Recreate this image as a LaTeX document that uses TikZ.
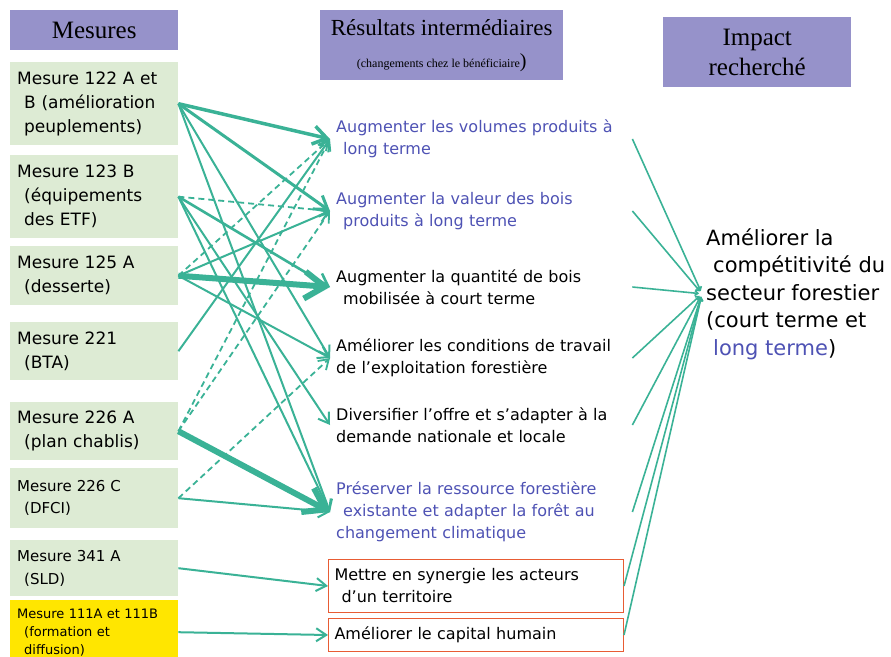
\documentclass[tikz,border=0pt]{standalone}
\usepackage{fontspec}
\setmainfont{DejaVu Sans}
\newfontfamily\headfont{Liberation Serif}
\usetikzlibrary{arrows.meta, positioning}
\definecolor{headpurple}{RGB}{150,146,202}
\definecolor{mesgreen}{RGB}{221,235,212}
\definecolor{mesyellow}{RGB}{255,230,0}
\definecolor{resblue}{RGB}{78,82,180}
\definecolor{linkteal}{RGB}{58,178,150}
\definecolor{boxorange}{RGB}{232,92,52}
\newcommand{\ind}{\hspace*{7pt}}
\tikzset{
  header/.style={fill=headpurple, anchor=north west, align=center, inner sep=0pt},
  mesure/.style={fill=mesgreen, anchor=north west, minimum width=168pt, text width=154pt, inner xsep=7pt, inner ysep=0pt, align=left},
  result/.style={anchor=west, text width=290pt, inner xsep=6pt, inner ysep=3pt, align=left, font=\fontsize{16}{22}\selectfont},
  resbox/.style={draw=boxorange, line width=1pt, anchor=north west, text width=283pt, inner xsep=6pt, align=left, font=\fontsize{16}{22}\selectfont},
  link/.style={draw=linkteal, line width=2pt, -{Straight Barb[length=5pt 2.5, width=6pt 3.5]}},
  dlink/.style={link, line width=1.8pt, dash pattern=on 6pt off 4pt},
  rlink/.style={draw=linkteal, line width=1.6pt, shorten >=3pt, -{Straight Barb[length=3pt, width=5pt]}}
}

\begin{document}
\begin{tikzpicture}[x=1pt, y=-1pt]
  \useasboundingbox (0,0) rectangle (891,656);
  % en-tetes
  \node[header, minimum width=168pt, minimum height=40pt, font=\headfont\fontsize{25}{28}\selectfont] (mesures) at (10,10) {Mesures};
  \node[header, minimum width=243pt, minimum height=70pt, font=\headfont\fontsize{23}{32}\selectfont] (resultats) at (320,10) {Résultats intermédiaires\\{\fontsize{12}{14}\selectfont (changements chez le bénéficiaire}{\fontsize{20}{20}\selectfont )}};
  \node[header, minimum width=188pt, minimum height=70pt, font=\headfont\fontsize{25}{30}\selectfont] (impacthead) at (663,17) {Impact\\recherché};

  % mesures
  \node[mesure, minimum height=83pt, font=\fontsize{17}{24}\selectfont] (m122) at (10,62) {Mesure 122 A et\\\ind B (amélioration\\\ind peuplements)};
  \node[mesure, minimum height=83pt, font=\fontsize{17}{24}\selectfont] (m123) at (10,155) {Mesure 123 B\\\ind (équipements\\\ind des ETF)};
  \node[mesure, minimum height=59pt, font=\fontsize{17}{24}\selectfont] (m125) at (10,246) {Mesure 125 A\\\ind (desserte)};
  \node[mesure, minimum height=58pt, font=\fontsize{17}{24}\selectfont] (m221) at (10,322) {Mesure 221\\\ind (BTA)};
  \node[mesure, minimum height=58pt, font=\fontsize{17}{24}\selectfont] (m226a) at (10,402) {Mesure 226 A\\\ind (plan chablis)};
  \node[mesure, minimum height=60pt, font=\fontsize{15}{22}\selectfont] (m226c) at (10,468) {Mesure 226 C\\\ind (DFCI)};
  \node[mesure, minimum height=56pt, font=\fontsize{15}{23}\selectfont] (m341) at (10,540) {Mesure 341 A\\\ind (SLD)};
  \node[mesure, fill=mesyellow, minimum height=64pt, font=\fontsize{13}{18}\selectfont] (m111) at (10,600) {Mesure 111A et 111B\\\ind (formation et\\\ind diffusion)};

  % resultats intermediaires
  \node[result, text=resblue] (r1) at (330,139) {Augmenter les volumes produits à\\\ind long terme};
  \node[result, text=resblue] (r2) at (330,211) {Augmenter la valeur des bois\\\ind produits à long terme};
  \node[result] (r3) at (330,287) {Augmenter la quantité de bois\\\ind mobilisée à court terme};
  \node[result] (r4) at (330,358) {Améliorer les conditions de travail\\de l’exploitation forestière};
  \node[result] (r5) at (330,425) {Diversifier l’offre et s’adapter à la\\demande nationale et locale};
  \node[result, text=resblue] (r6) at (330,512) {Préserver la ressource forestière\\\ind existante et adapter la forêt au\\changement climatique};
  \node[resbox, minimum height=53pt] (r7) at (328,559) {Mettre en synergie les acteurs\\\ind d’un territoire};
  \node[resbox, minimum height=33pt] (r8) at (328,618) {Améliorer le capital humain};

  % impact
  \node[anchor=north west, align=left, inner sep=4pt, font=\fontsize{21}{27.5}\selectfont] (impact) at (702,224) {Améliorer la\\\ind compétitivité du\\secteur forestier\\(court terme et\\\ind\textcolor{resblue}{long terme})};

  % liens mesures -> resultats
  \draw[link, line width=3.5pt] (m122.east) -- (r1.west);
  \draw[link, line width=3pt] (m122.east) -- (r2.west);
  \draw[link] (m122.east) -- (r4.west);
  \draw[link] (m122.east) -- (r6.west);
  \draw[dlink] (m123.east) -- (r2.west);
  \draw[link, line width=2.6pt] (m123.east) -- (r3.west);
  \draw[link] (m123.east) -- (r5.west);
  \draw[link] (m123.east) -- (r6.west);
  \draw[link, line width=6pt] (m125.east) -- (r3.west);
  \draw[dlink] (m125.east) -- (r1.west);
  \draw[link] (m125.east) -- (r2.west);
  \draw[link] (m125.east) -- (r4.west);
  \draw[link] (m221.east) -- (r1.west);
  \draw[link, line width=6pt] (m226a.east) -- (r6.west);
  \draw[dlink] (m226a.east) -- (r1.west);
  \draw[dlink] (m226a.east) -- (r2.west);
  \draw[link] (m226c.east) -- (r6.west);
  \draw[dlink] (m226c.east) -- (r4.west);
  \draw[link] (m341.east) -- (r7.west);
  \draw[link] (m111.east) -- (r8.west);

  % liens resultats -> impact
  \foreach \r in {r1,r2,r3,r4,r5,r6,r7,r8}
    \draw[rlink] (\r.east) -- (impact.west);
\end{tikzpicture}
\end{document}
